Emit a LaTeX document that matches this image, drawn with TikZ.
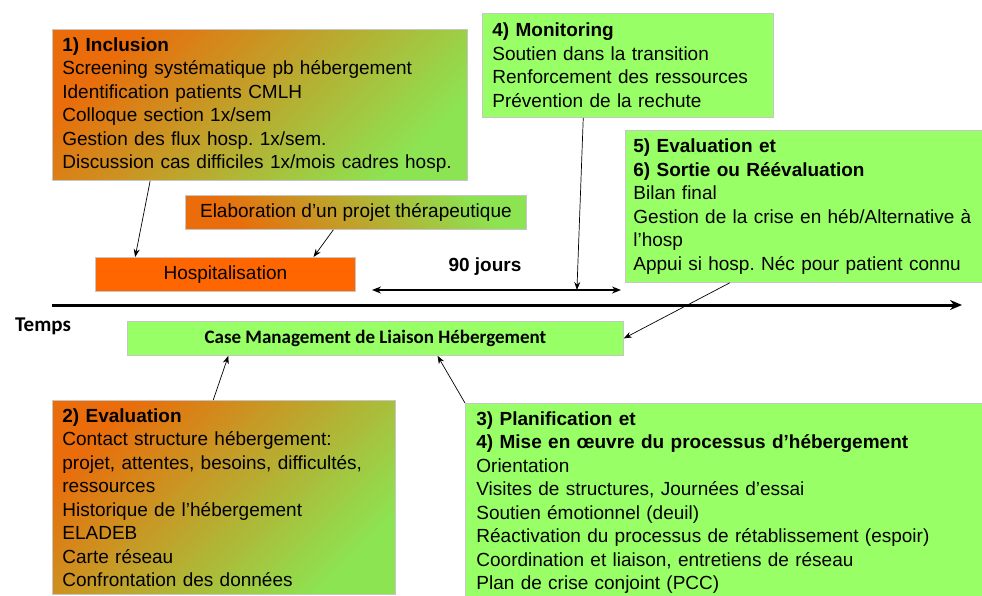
\documentclass[tikz,border=0pt]{standalone}
\usepackage{fontspec}
\setmainfont{Liberation Sans}
\newfontfamily\calib{Carlito}
\usetikzlibrary{arrows.meta,calc}
\frenchspacing
\definecolor{hgruen}{RGB}{153,255,102}
\definecolor{vgruen}{RGB}{140,228,82}
\definecolor{horange}{RGB}{255,102,0}
\definecolor{vorange}{RGB}{234,108,10}
\tikzset{
  kasten/.style={draw=gray!45, line width=0.8pt, inner xsep=10pt, inner ysep=8pt,
    anchor=north west, align=left, font=\fontsize{19}{23.5}\selectfont},
  gruen/.style={kasten, fill=hgruen},
  verlauf/.style={kasten, top color=vorange, bottom color=vgruen, shading angle=45},
  balken/.style={draw=gray!45, line width=0.8pt, anchor=north west, inner sep=0pt,
    minimum height=34pt, font=\fontsize{19}{23.5}\selectfont},
  pfeil/.style={-{Stealth[length=8pt,width=6pt]}, line width=0.7pt}
}
\begin{document}
\begin{tikzpicture}[x=1pt,y=-1pt]
  \useasboundingbox (0,0) rectangle (982,595);
  \clip (0,0) rectangle (982,595);
%Kaesten oben
  \node[verlauf, text width=395pt, minimum height=151pt] (incl) at (52,29)
    {\textbf{1) Inclusion}\\
     Screening systématique pb hébergement\\
     Identification patients CMLH\\
     Colloque section 1x/sem\\
     Gestion des flux hosp. 1x/sem.\\
     Discussion cas difficiles\ 1x/mois cadres hosp.};
  \node[gruen, text width=271pt, minimum height=104pt] (monit) at (482,13)
    {\textbf{4) Monitoring}\\
     Soutien dans la transition\\
     Renforcement des ressources\\
     Prévention de la rechute};
  \node[gruen, inner xsep=8pt, text width=342pt, minimum height=152pt] (sortie) at (625,130)
    {\textbf{5) Evaluation et}\\
     \textbf{6) Sortie ou Réévaluation}\\
     Bilan final\\
     Gestion de la crise en héb/Alternative à\\
     l’hosp\\
     Appui si hosp. Néc pour patient connu};
  \node[balken, minimum width=341pt, top color=vorange, bottom color=vgruen,
    shading angle=135] (elab) at (185,195) {Elaboration d’un projet thérapeutique};
  \node[balken, minimum width=260pt, fill=horange] (hosp) at (95,257) {Hospitalisation};
%Zeitachse
  \coordinate (d1) at (372,290);
  \coordinate (d2) at (621,290);
  \draw[{Stealth[length=9pt,width=7pt]}-{Stealth[length=9pt,width=7pt]}, line width=1.4pt] (d1) -- (d2);
  \node[font=\bfseries\fontsize{19}{23.5}\selectfont] (tage) at (485,267) {90 jours};
  \coordinate (t0) at (52,305);
  \coordinate (t1) at (962,305);
  \draw[line width=3pt, -{Stealth[length=12pt,width=10pt]}] (t0) -- (t1);
  \node[font=\calib\bfseries\fontsize{21}{24}\selectfont] (temps) at (43,326) {Temps};
  \node[balken, minimum width=496pt, fill=hgruen, font=\calib\bfseries\fontsize{19}{23}\selectfont]
    (cm) at (127,321) {Case Management de Liaison Hébergement};
%Kaesten unten
  \node[verlauf, text width=323pt] (eval) at (52,400)
    {\textbf{2) Evaluation}\\
     Contact structure hébergement:\\
     projet, attentes, besoins, difficultés,\\
     ressources\\
     Historique de l’hébergement\\
     ELADEB\\
     Carte réseau\\
     Confrontation des données};
  \node[gruen, inner xsep=11pt, text width=503pt] (plan) at (465,403)
    {\textbf{3) Planification et}\\
     \textbf{4) Mise en œuvre du processus d’hébergement}\\
     Orientation\\
     Visites de structures, Journées d’essai\\
     Soutien émotionnel (deuil)\\
     Réactivation du processus de rétablissement (espoir)\\
     Coordination et liaison, entretiens de réseau\\
     Plan de crise conjoint (PCC)};
%Pfeile
  \draw[pfeil] ($(incl.south west)!0.236!(incl.south east)$) -- ($(hosp.north west)!0.154!(hosp.north east)$);
  \draw[pfeil] ($(elab.south west)!0.434!(elab.south east)$) -- ($(hosp.north west)!0.838!(hosp.north east)$);
  \draw[pfeil] ($(monit.south west)!0.347!(monit.south east)$) -- ($(d1)!0.823!(d2)$);
  \draw[pfeil] ($(sortie.south west)!0.292!(sortie.south east)$) -- (cm.east);
  \draw[pfeil] ($(eval.north west)!0.469!(eval.north east)$) -- ($(cm.south west)!0.204!(cm.south east)$);
  \draw[pfeil] (plan.north west) -- ($(cm.south west)!0.625!(cm.south east)$);
\end{tikzpicture}
\end{document}
